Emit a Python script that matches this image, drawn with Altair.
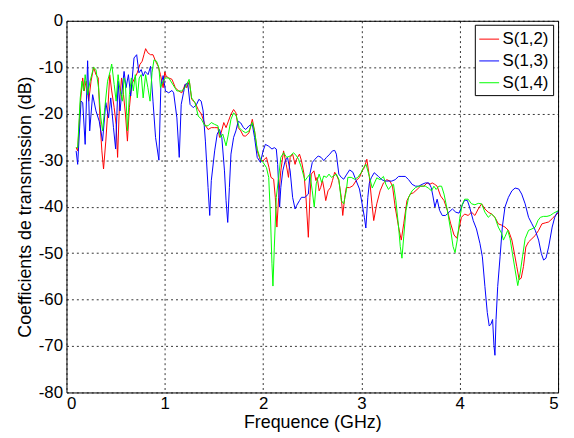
import altair as alt
import pandas as pd

# S(1,2) - red
f_s12 = [0.098, 0.114, 0.14, 0.165, 0.18, 0.2, 0.226, 0.25, 0.276, 0.30, 0.323, 0.343, 0.36, 0.377, 0.40, 0.418,
         0.44, 0.46, 0.485, 0.505, 0.52, 0.54, 0.56, 0.58, 0.60, 0.62, 0.64, 0.663, 0.694, 0.72, 0.747, 0.77,
         0.788, 0.805, 0.828, 0.855, 0.88, 0.906, 0.933, 0.956, 0.983, 1.0, 1.013, 1.04, 1.073, 1.107, 1.14,
         1.173, 1.207, 1.223, 1.25, 1.273, 1.307, 1.34, 1.373, 1.407, 1.44, 1.473, 1.507, 1.54, 1.557, 1.573,
         1.60, 1.623, 1.647, 1.673, 1.70, 1.723, 1.747, 1.773, 1.80, 1.823, 1.857, 1.89, 1.913, 1.94, 1.973,
         2.0, 2.034, 2.06, 2.08, 2.107, 2.124, 2.14, 2.158, 2.18, 2.208, 2.235, 2.258, 2.275, 2.30, 2.325,
         2.34, 2.37, 2.39, 2.416, 2.436, 2.46, 2.476, 2.49, 2.517, 2.537, 2.55, 2.57, 2.585, 2.604, 2.62,
         2.637, 2.66, 2.685, 2.705, 2.728, 2.75, 2.77, 2.795, 2.81, 2.83, 2.846, 2.88, 2.913, 2.946, 2.98,
         3.007, 3.03, 3.055, 3.08, 3.107, 3.125, 3.156, 3.19, 3.224, 3.258, 3.29, 3.316, 3.343, 3.378, 3.405,
         3.43, 3.463, 3.497, 3.53, 3.566, 3.6, 3.634, 3.668, 3.695, 3.72, 3.745, 3.77, 3.805, 3.84, 3.874,
         3.908, 3.942, 3.97, 3.99, 4.017, 4.05, 4.085, 4.12, 4.154, 4.188, 4.222, 4.256, 4.29, 4.324, 4.358,
         4.392, 4.427, 4.46, 4.495, 4.53, 4.556, 4.58, 4.604, 4.625, 4.648, 4.672, 4.70, 4.734, 4.768, 4.802,
         4.836, 4.87, 4.904, 4.94, 4.97, 5.0]
db_s12 = [-27.3, -28, -18, -12.3, -15.1, -13, -17.3, -13, -10, -11.6, -12.3, -22.3, -28, -31.9, -25.9, -20.1,
          -11.6, -15.1, -18.7, -22.3, -29.4, -17.3, -12.3, -15.9, -20.1, -25.9, -18.7, -13.7, -12.3, -11.2, -9.4,
          -8.7, -7.3, -6, -6.9, -7.3, -7.3, -8.7, -9.8, -11.6, -14.4, -11, -11.9, -12.3, -12.6, -14.4, -15.1,
          -15.5, -13.7, -14.4, -13, -16.9, -17.6, -19.1, -20.1, -22.3, -23.4, -23, -23, -23, -25.1, -24.1,
          -21.9, -23, -21.6, -20.1, -19.1, -19.8, -23, -23.7, -24.8, -24.8, -24.1, -21.2, -23.7, -28, -30.1,
          -30.1, -29.4, -31.6, -33.7, -34.1, -38, -44.4, -38, -32.3, -28, -30.9, -33.7, -29.4, -28.7, -30.9,
          -29.8, -28.7, -30.1, -33, -38, -46.6, -38, -33, -32.3, -34.4, -33.7, -36.6, -35.9, -34.4, -36.2,
          -38.7, -36.6, -35.9, -34.4, -32.6, -33.4, -34.4, -38, -41.9, -38, -35.9, -35.9, -35.5, -34.4, -33.7,
          -32.3, -31.6, -29.8, -33.5, -39.4, -43, -39.4, -36.6, -34.9, -34.2, -34.5, -35.6, -40.1, -44.4, -47.2,
          -43.7, -38.7, -37.3, -37, -36.3, -35.6, -35.6, -34.9, -35.2, -34.9, -35.2, -35.6, -37.7, -38.7, -40.8,
          -43.7, -46.1, -46.8, -45, -42.3, -41.6, -41.9, -41.2, -41.9, -40.5, -39.4, -40.5, -41.2, -41.6, -42.3,
          -43.7, -44, -44.4, -45.1, -47.2, -50.1, -52.9, -55.7, -55.4, -52.9, -48.7, -47.6, -46.9, -46.2, -45.1,
          -43.7, -43.5, -43.3, -42.6, -41.9, -41.4]

# S(1,3) - blue
f_s13 = [0.098, 0.114, 0.148, 0.165, 0.19, 0.215, 0.236, 0.266, 0.30, 0.333, 0.367, 0.40, 0.428, 0.45, 0.478,
         0.50, 0.525, 0.545, 0.56, 0.586, 0.606, 0.63, 0.653, 0.687, 0.714, 0.737, 0.76, 0.78, 0.80, 0.83,
         0.855, 0.88, 0.906, 0.94, 0.96, 0.983, 1.007, 1.04, 1.073, 1.09, 1.123, 1.147, 1.167, 1.19, 1.207,
         1.233, 1.257, 1.29, 1.323, 1.347, 1.37, 1.39, 1.413, 1.44, 1.457, 1.473, 1.507, 1.533, 1.557, 1.58,
         1.607, 1.623, 1.64, 1.657, 1.673, 1.70, 1.723, 1.747, 1.773, 1.80, 1.823, 1.857, 1.89, 1.913, 1.94,
         1.973, 2.0, 2.023, 2.057, 2.09, 2.114, 2.134, 2.148, 2.168, 2.18, 2.20, 2.225, 2.248, 2.275, 2.30,
         2.325, 2.34, 2.37, 2.39, 2.426, 2.46, 2.476, 2.50, 2.527, 2.56, 2.59, 2.617, 2.645, 2.678, 2.705,
         2.728, 2.745, 2.77, 2.795, 2.82, 2.852, 2.88, 2.913, 2.946, 2.98, 3.007, 3.03, 3.045, 3.065, 3.08,
         3.1, 3.13, 3.173, 3.207, 3.24, 3.275, 3.31, 3.343, 3.378, 3.412, 3.446, 3.48, 3.515, 3.55, 3.583,
         3.617, 3.65, 3.686, 3.71, 3.727, 3.747, 3.77, 3.795, 3.822, 3.856, 3.89, 3.925, 3.96, 3.993, 4.027,
         4.05, 4.078, 4.1, 4.137, 4.17, 4.205, 4.23, 4.256, 4.28, 4.3, 4.317, 4.334, 4.348, 4.358, 4.369,
         4.386, 4.41, 4.433, 4.46, 4.495, 4.53, 4.563, 4.6, 4.63, 4.665, 4.70, 4.734, 4.768, 4.802, 4.83,
         4.853, 4.877, 4.904, 4.94, 4.966, 5.0]
db_s13 = [-28, -30.9, -17.3, -17.6, -26.6, -8.6, -23.7, -15.9, -19.4, -21.6, -25.9, -17.6, -20.9, -16.6, -23,
          -27.6, -13, -19.4, -15.9, -10.9, -14.4, -11.6, -16.2, -8, -7.3, -11.2, -10.5, -11.9, -10.9, -11.6,
          -9.8, -17.3, -25.1, -30, -14, -11.8, -15.1, -15.5, -15, -15.5, -20.9, -29.4, -18, -15.5, -13.7,
          -13.4, -18, -18.7, -18, -16.9, -17.3, -19.4, -25.9, -35.9, -41.9, -34.4, -28, -24.4, -23.4, -25.1,
          -32.3, -38.7, -43.4, -35.9, -28.7, -25.1, -23.7, -21.6, -22, -23, -23.4, -22.6, -22.3, -25.1, -29.4,
          -30.5, -28, -26.6, -27, -27.6, -27.3, -27.6, -30.9, -40.1, -35.9, -32.3, -30.1, -29.4, -32.3, -38,
          -40.5, -39.8, -38.7, -38, -38, -37.3, -33, -30.5, -29.8, -29.1, -29.4, -30.1, -29.4, -28.7, -28,
          -27.9, -28.7, -33, -33.7, -34.1, -33, -32.1, -32.6, -34.4, -36.2, -39.4, -42.3, -44.6, -38, -35,
          -33.8, -32.7, -33.5, -34.2, -34.5, -34.5, -34.5, -34.2, -33.5, -33.5, -33.5, -34.2, -35.2, -35.6, -35.6,
          -35.2, -34.9, -34.9, -35.9, -37.7, -40.1, -38.4, -40.8, -41.9, -41.9, -41.2, -40.5, -41.2, -41.4, -39.6,
          -38.6, -38.7, -40.1, -43, -44.8, -47.9, -50.8, -57.2, -62.8, -65.7, -65.3, -64.3, -69.9, -72, -64.3,
          -57.2, -50.8, -44.4, -40.1, -38, -36.6, -36, -36.2, -37.3, -39.4, -42.3, -43.7, -45.1, -47.2, -50.1,
          -51.5, -51.1, -48.7, -44.4, -42.3, -40.9]

# S(1,4) - green
f_s14 = [0.098, 0.114, 0.14, 0.158, 0.175, 0.19, 0.215, 0.24, 0.276, 0.30, 0.326, 0.35, 0.367, 0.39, 0.418,
         0.444, 0.46, 0.485, 0.505, 0.525, 0.545, 0.57, 0.586, 0.60, 0.62, 0.64, 0.66, 0.68, 0.70, 0.72, 0.74,
         0.76, 0.78, 0.805, 0.828, 0.85, 0.87, 0.89, 0.916, 0.94, 0.956, 0.983, 1.007, 1.04, 1.073, 1.123,
         1.173, 1.207, 1.247, 1.273, 1.307, 1.34, 1.373, 1.407, 1.44, 1.473, 1.507, 1.54, 1.567, 1.59, 1.623,
         1.647, 1.673, 1.70, 1.727, 1.757, 1.79, 1.823, 1.857, 1.89, 1.913, 1.94, 1.973, 2.0, 2.034, 2.057,
         2.074, 2.09, 2.10, 2.114, 2.134, 2.158, 2.18, 2.208, 2.24, 2.275, 2.31, 2.34, 2.36, 2.39, 2.426, 2.45,
         2.476, 2.50, 2.52, 2.54, 2.57, 2.595, 2.617, 2.645, 2.67, 2.695, 2.718, 2.745, 2.77, 2.795, 2.82,
         2.846, 2.862, 2.896, 2.93, 2.963, 3.0, 3.02, 3.047, 3.08, 3.11, 3.156, 3.19, 3.224, 3.248, 3.275,
         3.30, 3.326, 3.35, 3.378, 3.395, 3.412, 3.43, 3.453, 3.48, 3.515, 3.55, 3.583, 3.617, 3.65, 3.68,
         3.713, 3.737, 3.76, 3.788, 3.815, 3.84, 3.874, 3.908, 3.932, 3.952, 3.976, 4.0, 4.024, 4.05, 4.085,
         4.12, 4.154, 4.188, 4.222, 4.256, 4.29, 4.324, 4.358, 4.392, 4.427, 4.444, 4.46, 4.488, 4.512, 4.536,
         4.563, 4.59, 4.614, 4.638, 4.665, 4.70, 4.734, 4.768, 4.795, 4.82, 4.853, 4.887, 4.92, 4.955, 5.0]
db_s14 = [-27.3, -27.3, -16.6, -13, -15.1, -11.6, -15.9, -13, -10, -10.5, -14.4, -20.9, -23.7, -18.7, -13,
          -10.9, -9.3, -13.7, -17.3, -11.6, -15.1, -17.3, -12.3, -13.7, -23.7, -15.9, -12.3, -15.1, -11.6, -16.6,
          -12.3, -11.6, -16.6, -11.6, -14.4, -17.3, -11.2, -8.4, -8.7, -10.1, -14.4, -13, -12.3, -12.3, -13.4,
          -15.1, -15.1, -14.4, -12.6, -16.6, -17.6, -20.5, -21.2, -22.6, -22.6, -21.9, -22.3, -22.6, -25.1,
          -24.4, -26.9, -24.4, -21.2, -19.8, -20.5, -23, -23.7, -24.1, -23.7, -21.9, -23.7, -27.6, -29.8, -30.5,
          -31.6, -33.7, -41.6, -52.3, -57.1, -48.7, -38, -33.7, -29.4, -28.4, -29.4, -29.1, -28.4, -29.1, -29.8,
          -31.6, -34.4, -33.7, -33, -36.6, -40.1, -35.1, -33, -34.8, -33.4, -33.7, -33, -33.7, -33.4, -33,
          -34.1, -38.7, -39.4, -36.6, -33.7, -33.7, -34.1, -33.7, -32.6, -31.6, -30.9, -33.5, -36, -33.8, -34.2,
          -33.5, -35.2, -36.3, -35.6, -35.2, -38.7, -44.4, -48.6, -51.1, -46.5, -40.8, -38, -36.6, -35.9, -35.6,
          -35.6, -35.6, -36, -36.6, -35.6, -36.3, -35.6, -35.6, -37.3, -40.8, -45.1, -48.6, -49.9, -47, -42.5,
          -39.6, -38.4, -38.4, -39.4, -39.6, -39.3, -39.4, -41.2, -42.3, -41.6, -42.3, -44.4, -45.8, -47.2,
          -46.5, -45.1, -46.9, -50.1, -53.6, -57, -54.3, -50.8, -46.9, -45.1, -44.8, -44.4, -43, -42.3, -42.1,
          -42.1, -41.9, -41.4, -40.9]

series_names = ["S(1,2)", "S(1,3)", "S(1,4)"]
series_colors = ["#ff0000", "#0000ff", "#00ff00"]
x_ticks = [0, 1, 2, 3, 4, 5]
y_ticks = [-80, -70, -60, -50, -40, -30, -20, -10, 0]

frames = []
for i, (fs, ds) in enumerate([(f_s12, db_s12), (f_s13, db_s13), (f_s14, db_s14)]):
    frames.append(pd.DataFrame({"f": fs, "db": ds, "serie": series_names[i]}))
df = pd.concat(frames, ignore_index=True)

FONT = "Liberation Sans"

chart = alt.Chart(df).mark_line(strokeWidth=1, clip=True).encode(
    x=alt.X("f:Q", scale=alt.Scale(domain=[0, 5], nice=False, zero=False),
            axis=alt.Axis(values=x_ticks, title="Frequence (GHz)", format="d",
                          labelPadding=3, titlePadding=2)),
    y=alt.Y("db:Q", scale=alt.Scale(domain=[-80, 0], nice=False, zero=False),
            axis=alt.Axis(values=y_ticks, title="Coefficients de transmission (dB)",
                          labelExpr="'' + datum.value", labelPadding=4, titlePadding=4)),
    color=alt.Color("serie:N",
                    scale=alt.Scale(domain=series_names, range=series_colors),
                    legend=alt.Legend(orient="none", legendX=412, legendY=4, title=None,
                                      strokeColor="black", fillColor="white", padding=4,
                                      symbolType="stroke", symbolSize=400, symbolStrokeWidth=1,
                                      labelFontSize=17, labelFont=FONT, labelColor="black",
                                      rowPadding=3, labelOffset=3)),
    order=alt.Order("f:Q"),
).properties(
    width=496, height=375,
    background="white",
    autosize=alt.AutoSizeParams(type="none"),
    padding={"left": 59, "top": 11, "right": 8, "bottom": 40},
).configure_view(
    stroke="black", strokeWidth=1
).configure_axis(
    domain=False, ticks=False, tickSize=0, grid=True,
    gridColor="#000000", gridDash=[2, 3], gridOpacity=0.8, gridWidth=1,
    labelFont=FONT, labelFontSize=17, labelColor="black",
    titleFont=FONT, titleFontSize=18, titleFontWeight="normal", titleColor="black",
)

chart.save("out.html", embed_options={"renderer": "svg", "actions": False})
